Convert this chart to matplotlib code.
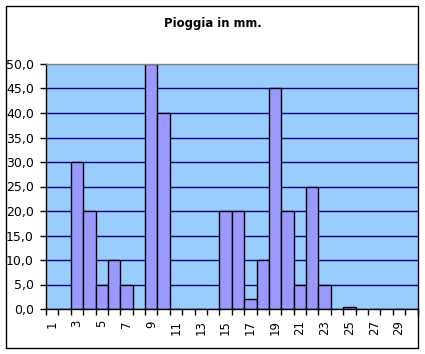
import matplotlib
matplotlib.use("Agg")
import matplotlib.pyplot as plt
from matplotlib.patches import Rectangle
import numpy as np

days = list(range(1, 31))
rain = [0, 0, 30, 20, 5, 10, 5, 0, 50, 40,
        0, 0, 0, 0, 20, 20, 2, 10, 45, 20,
        5, 25, 5, 0, 0.5, 0, 0, 0, 0, 0]
yticks = [0, 5, 10, 15, 20, 25, 30, 35, 40, 45, 50]
title = "Pioggia in mm."

plt.rcParams['font.family'] = ['DejaVu Sans']

W, H = 425, 354
fig = plt.figure(figsize=(W / 100, H / 100), dpi=100)
fig.patch.set_facecolor('white')

# chart border
fig.add_artist(Rectangle((5.5 / W, 1 - 347.5 / H), (418 - 5.5) / W, (347.5 - 5.5) / H,
                         transform=fig.transFigure, fill=False, edgecolor='black', lw=1))

left, right, top, bottom = 46, 417.5, 64, 309
ax = fig.add_axes([left / W, 1 - bottom / H, (right - left) / W, (bottom - top) / H])
ax.set_facecolor('#99CCFF')
ax.set_xlim(0.5, 30.5)
ax.set_ylim(0, 50)
for y in yticks[1:-1]:
    ax.axhline(y, color='#000080', lw=1.0, zorder=1)
ax.bar(days, rain, width=1.0, color='#9999FF', edgecolor='black', lw=1.0, zorder=2)

ax.set_yticks(yticks)
ax.set_yticklabels([f"{v:.1f}".replace('.', ',') for v in yticks], fontsize=9)
ax.tick_params(axis='y', direction='out', length=4, width=1, pad=4.8)

ax.set_xticks([d + 0.5 for d in days[:-1]] + [0.5, 30.5])
ax.set_xticklabels([])
ax.tick_params(axis='x', direction='out', length=4, width=1)
ax.set_xticks(days[::2], minor=True)
ax.set_xticklabels([str(d) for d in days[::2]], minor=True, rotation=90, fontsize=8.5)
ax.tick_params(axis='x', which='minor', length=0, pad=8)

for s in ['left', 'bottom']:
    ax.spines[s].set_color('black')
    ax.spines[s].set_linewidth(1)
ax.spines['top'].set_color('#808080')
ax.spines['top'].set_linewidth(1)
ax.spines['right'].set_visible(False)

fig.text(212.5 / W, 1 - 23 / H, title, ha='center', va='center', fontsize=8.4, fontweight='bold')

fig.savefig('out.png', dpi=100)
